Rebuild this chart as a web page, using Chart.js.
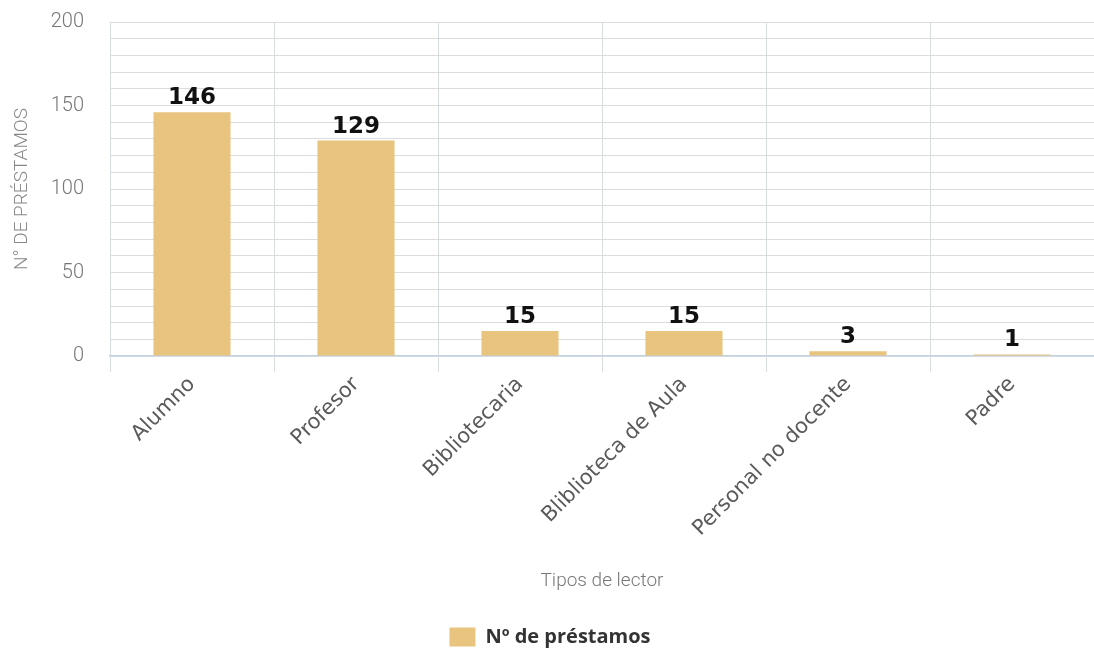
<!DOCTYPE html>
<html>
<head>
<meta charset="utf-8">
<script src="https://cdn.jsdelivr.net/npm/chart.js@4.4.0/dist/chart.umd.min.js"></script>
<style>
  html, body { margin: 0; padding: 0; background: #fff; }
  #wrap { width: 1094px; height: 657px; }
</style>
</head>
<body>
<div id="wrap"><canvas id="prestamos-chart" width="1094" height="657"></canvas></div>
<script>
// Préstamos por tipo de lector
const categories = ['Alumno', 'Profesor', 'Bibliotecaria', 'Bliblioteca de Aula', 'Personal no docente', 'Padre'];
const prestamos = [146, 129, 15, 15, 3, 1];
const yTicks = [0, 50, 100, 150, 200];

const thinFont = "'Roboto', sans-serif";

// etiquetas de valor encima de cada barra
const valueLabels = {
    id: 'valueLabels',
    afterDatasetsDraw(chart) {
        const ctx = chart.ctx;
        const meta = chart.getDatasetMeta(0);
        ctx.save();
        ctx.font = "bold 23px 'DejaVu Sans', sans-serif";
        ctx.fillStyle = '#111';
        ctx.textAlign = 'center';
        ctx.textBaseline = 'alphabetic';
        meta.data.forEach((bar, i) => {
            ctx.fillText(prestamos[i], bar.x, bar.y - 8);
        });
        ctx.restore();
    }
};

const ctx = document.getElementById('prestamos-chart').getContext('2d');
const chart = new Chart(ctx, {
    type: 'bar',
    data: {
        labels: categories,
        datasets: [{
            label: 'Nº de préstamos',
            data: prestamos,
            backgroundColor: '#E8C47E',
            borderWidth: 0,
            barPercentage: 0.47,
            categoryPercentage: 1
        }]
    },
    options: {
        responsive: false,
        animation: false,
        layout: { padding: { top: 22, right: 0, left: 6, bottom: 0 } },
        scales: {
            x: {
                grid: { color: '#d8dde2', tickLength: 16, offset: true },
                border: { color: '#c3d1de', width: 1.5 },
                ticks: {
                    minRotation: 45,
                    maxRotation: 45,
                    color: '#5a5a5a',
                    font: { family: "'DejaVu Sans', sans-serif", size: 21 },
                    padding: 0
                },
                title: {
                    display: true,
                    text: 'Tipos de lector',
                    color: '#777',
                    font: { family: thinFont, size: 19, weight: 300 },
                    padding: { top: 29, bottom: 24 }
                }
            },
            y: {
                min: 0,
                max: 200,
                grid: {
                    color: c => c.tick && c.tick.value === 0 ? '#c3d1de' : '#dcdcdc',
                    lineWidth: c => c.tick && c.tick.value === 0 ? 1.5 : 1,
                    drawTicks: false
                },
                border: { display: false },
                ticks: {
                    stepSize: 10,
                    autoSkip: false,
                    maxTicksLimit: 30,
                    color: '#777',
                    padding: 26,
                    font: { family: thinFont, size: 20, weight: 300 },
                    callback: v => yTicks.includes(v) ? v : ''
                },
                title: {
                    display: true,
                    text: 'N° DE PRÉSTAMOS',
                    color: '#888',
                    font: { family: thinFont, size: 19, weight: 300 },
                    padding: { top: 5, bottom: 6 }
                },
                afterFit(scale) {
                    scale.width = 104;
                    scale.paddingTop = 0;
                    scale.paddingBottom = 0;
                }
            }
        },
        plugins: {
            legend: {
                position: 'bottom',
                labels: {
                    boxWidth: 26,
                    boxHeight: 19,
                    color: '#333',
                    font: { family: "'Open Sans', sans-serif", size: 20, weight: 'bold' }
                }
            },
            tooltip: { enabled: false }
        }
    },
    plugins: [valueLabels]
});
</script>
</body>
</html>
